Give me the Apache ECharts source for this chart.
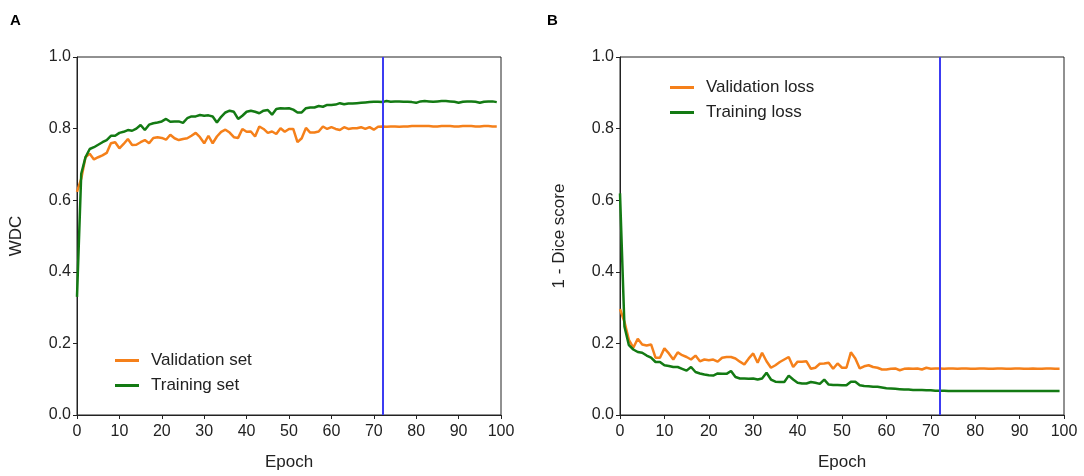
<!DOCTYPE html>
<html>
<head>
<meta charset="utf-8">
<script src="https://cdn.jsdelivr.net/npm/echarts@6/dist/echarts.min.js"></script>
<style>
  html, body { margin: 0; padding: 0; background: #fff; }
  #main { width: 1084px; height: 476px; }
</style>
</head>
<body>
<div id="main"></div>
<script>
// epoch picked (blue line) in both panels
var bestEpoch = 72;

// A: WDC per epoch (0..99)
var valSet = [
  0.623,0.66,0.72,0.73,0.714,0.72,0.725,0.732,0.759,0.762,
  0.745,0.757,0.771,0.754,0.755,0.762,0.768,0.759,0.774,0.776,
  0.774,0.769,0.783,0.773,0.768,0.771,0.773,0.78,0.788,0.776,
  0.759,0.78,0.759,0.778,0.791,0.797,0.789,0.776,0.774,0.799,
  0.791,0.792,0.778,0.806,0.799,0.788,0.792,0.785,0.801,0.791,
  0.799,0.799,0.762,0.773,0.802,0.789,0.789,0.792,0.806,0.799,
  0.804,0.799,0.796,0.804,0.799,0.801,0.801,0.804,0.799,0.804,
  0.797,0.805,0.806,0.805,0.806,0.806,0.805,0.806,0.806,0.807,
  0.807,0.807,0.807,0.807,0.806,0.806,0.807,0.807,0.807,0.806,
  0.806,0.807,0.807,0.807,0.806,0.806,0.807,0.807,0.806,0.806
];
var trainSet = [
  0.33,0.674,0.72,0.743,0.748,0.755,0.762,0.768,0.78,0.78,
  0.788,0.791,0.796,0.794,0.80,0.81,0.796,0.811,0.815,0.817,
  0.82,0.827,0.819,0.82,0.82,0.816,0.829,0.834,0.834,0.838,
  0.836,0.837,0.834,0.817,0.833,0.845,0.85,0.847,0.827,0.836,
  0.847,0.85,0.847,0.843,0.85,0.852,0.839,0.855,0.857,0.856,
  0.857,0.853,0.845,0.845,0.857,0.859,0.859,0.863,0.861,0.866,
  0.866,0.867,0.871,0.868,0.87,0.87,0.871,0.872,0.873,0.874,
  0.875,0.875,0.874,0.877,0.875,0.876,0.876,0.875,0.875,0.874,
  0.872,0.876,0.877,0.876,0.875,0.876,0.877,0.877,0.876,0.875,
  0.872,0.875,0.876,0.876,0.875,0.872,0.875,0.876,0.876,0.874
];

// B: 1 - Dice score per epoch (0..99)
var valLoss = [
  0.296,0.26,0.21,0.188,0.213,0.197,0.194,0.197,0.16,0.16,
  0.186,0.172,0.155,0.175,0.167,0.162,0.155,0.166,0.15,0.155,
  0.153,0.155,0.149,0.16,0.162,0.162,0.158,0.149,0.141,0.158,
  0.172,0.146,0.174,0.15,0.132,0.139,0.148,0.155,0.162,0.134,
  0.149,0.149,0.15,0.129,0.132,0.143,0.144,0.146,0.129,0.144,
  0.132,0.132,0.175,0.158,0.13,0.136,0.139,0.134,0.132,0.127,
  0.127,0.129,0.13,0.125,0.129,0.13,0.129,0.13,0.127,0.132,
  0.129,0.13,0.13,0.129,0.13,0.13,0.129,0.13,0.13,0.129,
  0.129,0.13,0.13,0.129,0.129,0.13,0.13,0.129,0.129,0.13,
  0.13,0.129,0.129,0.13,0.129,0.129,0.13,0.13,0.129,0.129
];
var trainLoss = [
  0.619,0.247,0.195,0.183,0.176,0.174,0.166,0.16,0.148,0.148,
  0.139,0.137,0.134,0.134,0.129,0.124,0.134,0.12,0.116,0.113,
  0.111,0.11,0.116,0.115,0.115,0.123,0.106,0.102,0.102,0.101,
  0.102,0.099,0.102,0.118,0.099,0.093,0.092,0.092,0.11,0.099,
  0.09,0.088,0.088,0.092,0.09,0.087,0.099,0.085,0.084,0.084,
  0.083,0.083,0.093,0.093,0.083,0.081,0.08,0.079,0.079,0.077,
  0.075,0.074,0.073,0.072,0.071,0.071,0.07,0.07,0.07,0.069,
  0.069,0.068,0.068,0.068,0.067,0.067,0.067,0.067,0.067,0.067,
  0.067,0.067,0.067,0.067,0.067,0.067,0.067,0.067,0.067,0.067,
  0.067,0.067,0.067,0.067,0.067,0.067,0.067,0.067,0.067,0.067
];

var ORANGE = '#f5801a';
var GREEN = '#137a13';
var BLUE = '#3c3cf2';
var INK = '#222';
var FONT = '"Liberation Sans", Arial, Helvetica, sans-serif';

function pairs(arr) {
  return arr.map(function (v, i) { return [i, v]; });
}

function xAxisOf(idx) {
  return {
    type: 'value', gridIndex: idx, min: 0, max: 100, interval: 10,
    name: 'Epoch', nameLocation: 'middle', nameGap: 39,
    nameTextStyle: { fontSize: 17, color: INK, fontFamily: FONT },
    axisLine: { show: true, lineStyle: { color: INK, width: 1 } },
    axisTick: { show: true, inside: false, length: 4, lineStyle: { color: INK } },
    axisLabel: { fontSize: 16, color: INK, fontFamily: FONT, margin: 9 },
    splitLine: { show: false }
  };
}
function yAxisOf(idx, title) {
  return {
    type: 'value', gridIndex: idx, min: 0, max: 1, interval: 0.2,
    name: title, nameLocation: 'middle', nameGap: 52,
    nameTextStyle: { fontSize: 17, color: INK, fontFamily: FONT },
    axisLine: { show: true, lineStyle: { color: INK, width: 1 } },
    axisTick: { show: true, inside: false, length: 4, lineStyle: { color: INK } },
    axisLabel: {
      fontSize: 16, color: INK, fontFamily: FONT, margin: 6,
      formatter: function (v) { return v.toFixed(1); }
    },
    splitLine: { show: false }
  };
}
function lineSeries(name, data, color, idx, withMark) {
  var s = {
    name: name, type: 'line', xAxisIndex: idx, yAxisIndex: idx,
    data: pairs(data), showSymbol: false, symbol: 'none',
    lineStyle: { color: color, width: 2.5 }, itemStyle: { color: color },
    z: 3
  };
  if (withMark) {
    s.markLine = {
      silent: true, symbol: ['none', 'none'], label: { show: false },
      lineStyle: { color: BLUE, width: 2, type: 'solid' },
      data: [{ xAxis: bestEpoch }]
    };
  }
  return s;
}
function legendOf(names, left, top) {
  return {
    data: names, orient: 'vertical', left: left, top: top, padding: 0,
    icon: 'rect', itemWidth: 24, itemHeight: 3, itemGap: 8,
    selectedMode: false,
    textStyle: { fontSize: 17, color: INK, fontFamily: FONT, lineHeight: 17, padding: [0, 0, 0, 7] }
  };
}

var chart = echarts.init(document.getElementById('main'));
var option = {
  animation: false,
  backgroundColor: '#fff',
  title: [
    { text: 'A', left: 5, top: 8, textStyle: { fontSize: 15, fontWeight: 'bold', color: '#000', fontFamily: FONT } },
    { text: 'B', left: 542, top: 8, textStyle: { fontSize: 15, fontWeight: 'bold', color: '#000', fontFamily: FONT } }
  ],
  grid: [
    { left: 77, right: 583, top: 57, bottom: 61, show: true, borderColor: INK, borderWidth: 1 },
    { left: 620, right: 20, top: 57, bottom: 61, show: true, borderColor: INK, borderWidth: 1 }
  ],
  legend: [
    legendOf(['Validation set', 'Training set'], 115, 352),
    legendOf(['Validation loss', 'Training loss'], 670, 79)
  ],
  xAxis: [xAxisOf(0), xAxisOf(1)],
  yAxis: [yAxisOf(0, 'WDC'), yAxisOf(1, '1 - Dice score')],
  series: [
    lineSeries('Validation set', valSet, ORANGE, 0, true),
    lineSeries('Training set', trainSet, GREEN, 0, false),
    lineSeries('Validation loss', valLoss, ORANGE, 1, true),
    lineSeries('Training loss', trainLoss, GREEN, 1, false)
  ]
};
chart.setOption(option);
</script>
</body>
</html>
